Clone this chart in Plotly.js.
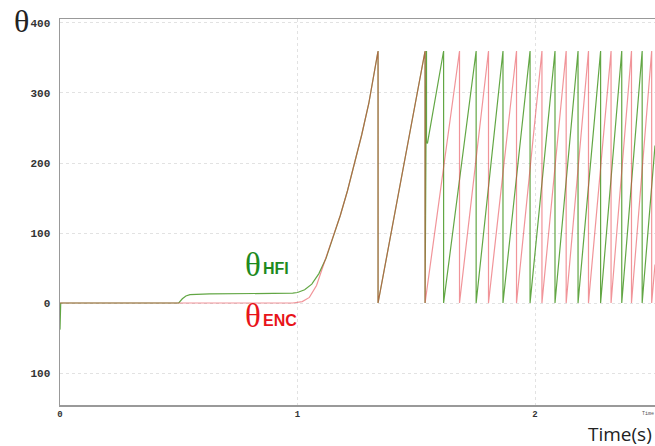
<!DOCTYPE html>
<html>
<head>
<meta charset="utf-8">
<script src="https://cdn.plot.ly/plotly-3.0.1.min.js"></script>
<style>html,body{margin:0;padding:0;background:#fff;}#chart{width:655px;height:446px;}</style>
</head>
<body>
<div id="chart"></div>
<script>
// Time (s) and angle (deg) of the HFI estimate
const tHFI = [0, 0.003, 0.50, 0.515, 0.53, 0.547, 0.63, 0.84, 0.98, 1.00, 1.03, 1.06, 1.09, 1.12, 1.15, 1.18, 1.21, 1.24, 1.27, 1.30, 1.339,
  1.339, 1.537, 1.537, 1.540, 1.540, 1.543, 1.543, 1.547, 1.615,
  1.615, 1.752, 1.752, 1.865, 1.865, 1.979, 1.979, 2.084, 2.084, 2.181, 2.181, 2.276, 2.276, 2.365, 2.365, 2.451, 2.451, 2.505];
const thetaHFI = [-38, 0, 0, 6, 10, 12, 13, 13, 14, 15, 19, 27, 42, 64, 94, 125, 160, 198, 240, 285, 360,
  0, 360, 0, 360, 15, 360, 230, 228, 360,
  0, 360, 0, 360, 0, 360, 0, 360, 0, 360, 0, 360, 0, 360, 0, 360, 0, 225];

// Time (s) and angle (deg) of the encoder
const tENC = [0, 0.98, 1.02, 1.05, 1.08, 1.11, 1.15, 1.18, 1.21, 1.24, 1.27, 1.30, 1.339,
  1.339, 1.537, 1.537, 1.682, 1.682, 1.804, 1.804, 1.922, 1.922, 2.029, 2.029, 2.131, 2.131, 2.225, 2.225, 2.320, 2.320, 2.406, 2.406, 2.491, 2.491, 2.505];
const thetaENC = [0, 0, 2, 8, 25, 55, 92, 125, 160, 198, 240, 285, 360,
  0, 360, 0, 360, 0, 360, 0, 360, 0, 360, 0, 360, 0, 360, 0, 360, 0, 360, 0, 360, 0, 55];

const yTickVals = [-100, 0, 100, 200, 300, 400];
const yTickText = ['100', '0', '100', '200', '300', '400'];
const xTickVals = [0, 1, 2];
const xTickText = ['0', '1', '2'];

const traces = [
  {x: tHFI, y: thetaHFI, type: 'scatter', mode: 'lines', name: 'θHFI',
   line: {color: 'rgba(70,150,35,0.85)', width: 1.2}},
  {x: tENC, y: thetaENC, type: 'scatter', mode: 'lines', name: 'θENC',
   line: {color: 'rgba(230,60,70,0.55)', width: 1.2}}
];

const tickFont = {family: 'Liberation Mono, DejaVu Sans Mono, monospace', size: 11, color: '#333', weight: 'bold'};

const layout = {
  width: 655, height: 446,
  margin: {l: 60, r: 0, t: 19, b: 41, pad: 0},
  paper_bgcolor: '#fff', plot_bgcolor: '#fff',
  showlegend: false,
  xaxis: {range: [0, 2.505], tickvals: xTickVals, ticktext: xTickText,
    showline: true, linecolor: '#999', linewidth: 1.5, mirror: true,
    showgrid: true, gridcolor: '#e2e2e2', griddash: 'dot', zeroline: false,
    ticks: '', ticklen: 0, tickfont: {family: tickFont.family, size: 9, color: '#333', weight: 'bold'}},
  yaxis: {range: [-145.7, 405.7], tickvals: yTickVals, ticktext: yTickText,
    showline: true, linecolor: '#999', linewidth: 1.5,
    showgrid: true, gridcolor: '#e2e2e2', griddash: 'dot', zeroline: false,
    ticks: '', ticklen: 0, ticklabelstandoff: 6, tickfont: tickFont},
  annotations: [
    {xref: 'paper', yref: 'paper', x: -0.064, y: 0.995, xanchor: 'center', yanchor: 'middle',
     text: 'θ', showarrow: false, font: {family: 'Liberation Serif, DejaVu Serif, serif', size: 32, color: '#222'}},
    {xref: 'x', yref: 'y', x: 0.813, y: 55, xanchor: 'center', yanchor: 'middle',
     text: 'θ', showarrow: false, font: {family: 'Liberation Serif, DejaVu Serif, serif', size: 33, color: '#1e8a1e'}},
    {xref: 'x', yref: 'y', x: 0.846, y: 49, xanchor: 'left', yanchor: 'middle',
     text: 'HFI', showarrow: false, font: {family: 'Liberation Sans, Arial, sans-serif', size: 16, color: '#1e8a1e', weight: 'bold'}},
    {xref: 'x', yref: 'y', x: 0.813, y: -19, xanchor: 'center', yanchor: 'middle',
     text: 'θ', showarrow: false, font: {family: 'Liberation Serif, DejaVu Serif, serif', size: 33, color: '#e8141a'}},
    {xref: 'x', yref: 'y', x: 0.846, y: -25, xanchor: 'left', yanchor: 'middle',
     text: 'ENC', showarrow: false, font: {family: 'Liberation Sans, Arial, sans-serif', size: 16, color: '#e8141a', weight: 'bold'}},
    {xref: 'paper', yref: 'paper', x: 0.941, y: -0.075, xanchor: 'center', yanchor: 'middle',
     text: 'Time(s)', showarrow: false, font: {family: 'Open Sans, sans-serif', size: 19, color: '#222'}},
    {xref: 'paper', yref: 'paper', x: 0.988, y: -0.023, xanchor: 'center', yanchor: 'middle',
     text: 'Time', showarrow: false, font: {family: 'Liberation Mono, monospace', size: 5, color: '#555'}}
  ]
};

Plotly.newPlot('chart', traces, layout, {staticPlot: true, displayModeBar: false});
</script>
</body>
</html>
